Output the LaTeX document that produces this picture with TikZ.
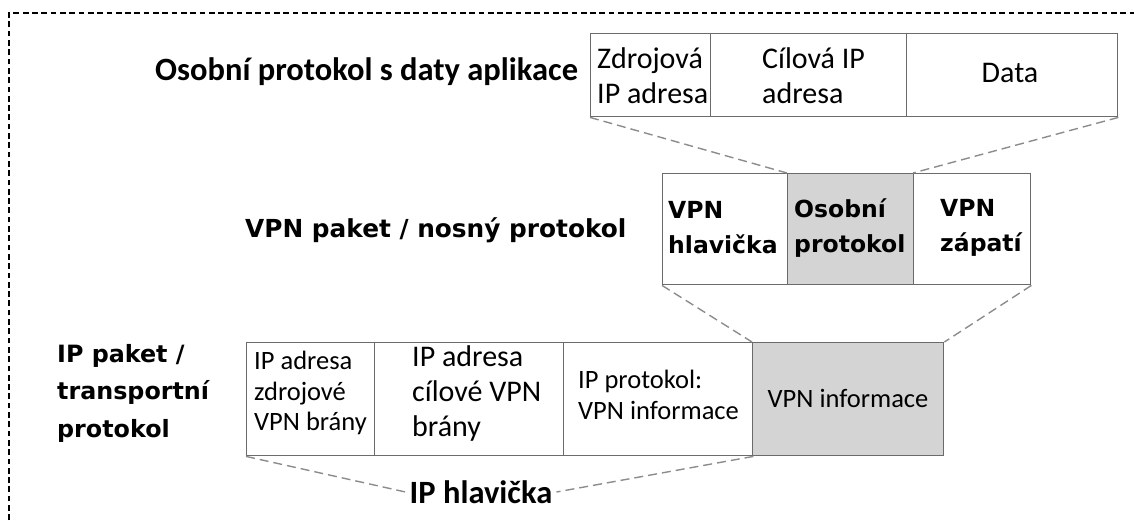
\documentclass[tikz,border=0pt]{standalone}
\usepackage{fontspec}
\setmainfont{Carlito}
\newfontfamily\dvsans{DejaVu Sans}
\begin{document}
\begin{tikzpicture}[x=1pt,y=-1pt,
  cell/.style={draw=black!58, line width=1.4pt, inner sep=0pt, anchor=north west},
  shaded/.style={cell, fill=black!17},
  link/.style={draw=black!45, line width=1.4pt, dash pattern=on 9pt off 5pt},
  txt/.style={inner sep=0pt, align=left, anchor=west},
  big/.style={txt, font=\fontsize{30}{35}\selectfont},
  small/.style={txt, font=\fontsize{26.5}{30.5}\selectfont},
  heavy/.style={txt, font=\dvsans\bfseries\fontsize{23.5}{35}\selectfont},
  caption/.style={txt, font=\bfseries\fontsize{32.5}{37}\selectfont}]
\useasboundingbox (0,0) rectangle (1134,520);
% frame (top and left edges only)
\draw[black, line width=2pt, dash pattern=on 5.7pt off 3.6pt] (9,520) -- (9,13) -- (1134,13);

% private protocol with application data
\node[cell, minimum width=120pt, minimum height=83pt] (t1) at (590,33) {};
\node[cell, minimum width=196pt, minimum height=83pt] (t2) at (710,33) {};
\node[cell, minimum width=211pt, minimum height=83pt] (t3) at (906,33) {};
\node[big] (t1txt) at (597,76) {Zdrojová\\IP adresa};
\node[big] (t2txt) at (762,76) {Cílová IP\\adresa};
\node[big, anchor=center] (t3txt) at (1010,73) {Data};
\node[caption] (lab1) at (155,72) {Osobní protokol s daty aplikace};

% VPN packet / carrier protocol
\node[cell, minimum width=125pt, minimum height=111pt] (m1) at (662,173) {};
\node[shaded, minimum width=126pt, minimum height=111pt] (m2) at (787,173) {};
\node[cell, minimum width=117pt, minimum height=111pt] (m3) at (913,173) {};
\node[heavy] (m1txt) at (668,228) {VPN\\hlavička};
\node[heavy] (m2txt) at (794,228) {Osobní\\protokol};
\node[heavy] (m3txt) at (940,228) {VPN\\zápatí};
\node[txt, font=\dvsans\bfseries\fontsize{24.8}{30}\selectfont] (lab2) at (245,230) {VPN paket / nosný protokol};

% IP packet / transport protocol
\node[cell, minimum width=128pt, minimum height=113pt] (b1) at (246,342) {};
\node[cell, minimum width=189pt, minimum height=113pt] (b2) at (374,342) {};
\node[cell, minimum width=189pt, minimum height=113pt] (b3) at (563,342) {};
\node[shaded, minimum width=191pt, minimum height=113pt] (b4) at (752,342) {};
\node[small] (b1txt) at (254,393) {IP adresa\\zdrojové\\VPN brány};
\node[big] (b2txt) at (412,393) {IP adresa\\cílové VPN\\brány};
\node[small] (b3txt) at (578,395) {IP protokol:\\VPN informace};
\node[small, anchor=center] (b4txt) at (848,398) {VPN informace};
\node[txt, font=\dvsans\bfseries\fontsize{23.8}{37.5}\selectfont] (lab3) at (57,393) {IP paket /\\transportní\\protokol};
\node[caption, anchor=center] (hdr) at (481,492) {IP hlavička};

% expansion lines
\draw[link] (t1.south west) -- (m2.north west);
\draw[link] (t3.south east) -- (m3.north west);
\draw[link] (m1.south west) -- (b4.north west);
\draw[link] (m3.south east) -- (b4.north east);
\draw[link] (b1.south west) -- ([xshift=-4pt]hdr.west);
\draw[link] (b3.south east) -- ([xshift=4pt]hdr.east);
\end{tikzpicture}
\end{document}
